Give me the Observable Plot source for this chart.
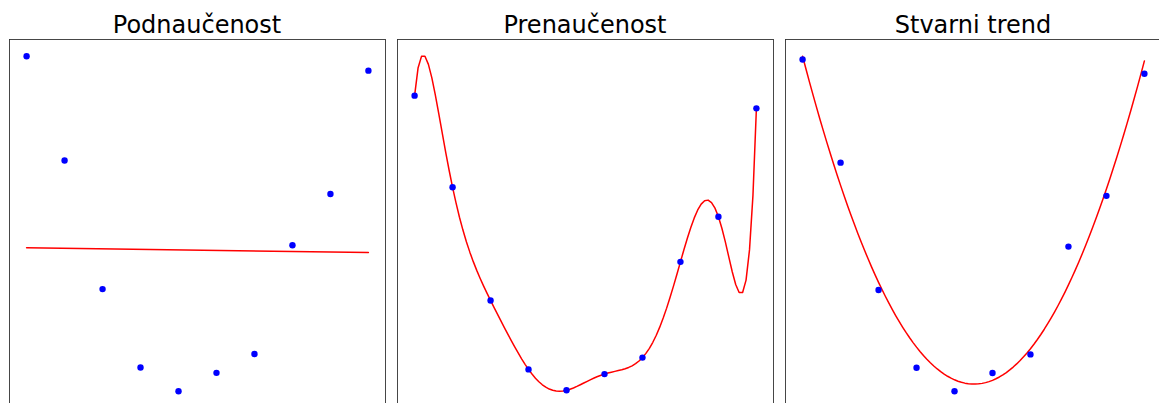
<!DOCTYPE html>
<html>
<head>
<meta charset="utf-8">
<script src="https://cdn.jsdelivr.net/npm/d3@7"></script>
<script src="https://cdn.jsdelivr.net/npm/@observablehq/plot@0.6"></script>
<style>
  html, body { margin: 0; padding: 0; background: #fff; }
  #wrap { position: relative; width: 1159px; height: 403px; overflow: hidden; background: #fff; }
  .title { position: absolute; top: 13px; width: 376px; text-align: center;
           font-family: "DejaVu Sans", sans-serif; font-size: 24px; line-height: 24px; color: #000; }
  .panel { position: absolute; top: 36.8px; }
</style>
</head>
<body>
<div id="wrap"></div>
<script>
// ---- data ----
const titles = ["Podnaučenost", "Prenaučenost", "Stvarni trend"];
const xs = [0, 1, 2, 3, 4, 5, 6, 7, 8, 9];
const ys = [10.0, 6.89, 3.05, 0.71, 0.0, 0.55, 1.11, 4.36, 5.89, 9.57];

const points = xs.map((x, i) => ({x, y: ys[i]}));

// grid for fitted curves
const N = 100;
const x0 = d3.min(xs), x1 = d3.max(xs);
const grid = d3.range(N).map(i => x0 + (x1 - x0) * i / (N - 1));

// overfit: interpolating polynomial (degree n-1) through all points
function lagrange(x) {
  let s = 0;
  for (let i = 0; i < xs.length; i++) {
    let p = ys[i];
    for (let j = 0; j < xs.length; j++) if (j !== i) p *= (x - xs[j]) / (xs[i] - xs[j]);
    s += p;
  }
  return s;
}
const overfit = grid.map(x => ({x, y: lagrange(x)}));

// true trend: least squares quadratic
function quadFit() {
  const n = xs.length, mx = d3.mean(xs);
  const t = xs.map(x => x - mx);
  const S2 = d3.sum(t, v => v * v), S4 = d3.sum(t, v => v ** 4), S3 = d3.sum(t, v => v ** 3);
  const Sy = d3.sum(ys), Sty = d3.sum(t, (v, i) => v * ys[i]), St2y = d3.sum(t, (v, i) => v * v * ys[i]);
  const A = [[n, 0, S2, Sy], [0, S2, S3, Sty], [S2, S3, S4, St2y]];
  for (let k = 0; k < 3; k++) {
    for (let r = k + 1; r < 3; r++) {
      const f = A[r][k] / A[k][k];
      for (let c = k; c < 4; c++) A[r][c] -= f * A[k][c];
    }
  }
  const sol = [0, 0, 0];
  for (let k = 2; k >= 0; k--) {
    let s = A[k][3];
    for (let c = k + 1; c < 3; c++) s -= A[k][c] * sol[c];
    sol[k] = s / A[k][k];
  }
  return x => sol[0] + sol[1] * (x - mx) + sol[2] * (x - mx) ** 2;
}
const qf = quadFit();
const trend = grid.map(x => ({x, y: qf(x)}));

function padded(vals) {
  const [a, b] = d3.extent(vals);
  const m = (b - a) * 0.05;
  return [a - m, b + m];
}

const wrap = document.getElementById("wrap");
const frameLefts = [9, 397, 785];
const M = 2, W = 376, H = 368.5;

titles.forEach((t, k) => {
  const d = document.createElement("div");
  d.className = "title";
  d.style.left = frameLefts[k] + "px";
  d.textContent = t;
  wrap.appendChild(d);

  let lineMark, curveY = [];
  if (k === 0) {
    lineMark = Plot.linearRegressionY(points, {x: "x", y: "y", stroke: "#ff0000", strokeWidth: 1.5, ci: 0});
  } else if (k === 1) {
    lineMark = Plot.line(overfit, {x: "x", y: "y", stroke: "#ff0000", strokeWidth: 1.5, curve: "linear"});
    curveY = overfit.map(d => d.y);
  } else {
    lineMark = Plot.line(trend, {x: "x", y: "y", stroke: "#ff0000", strokeWidth: 1.5, curve: "linear"});
    curveY = trend.map(d => d.y);
  }

  const chart = Plot.plot({
    width: W + 2 * M,
    height: H + 2 * M,
    marginTop: M, marginBottom: M, marginLeft: M, marginRight: M,
    x: {domain: padded(xs), axis: null},
    y: {domain: padded(ys.concat(curveY)), axis: null},
    style: {background: "transparent", overflow: "visible"},
    marks: [
      lineMark,
      Plot.dot(points, {x: "x", y: "y", r: 3.2, fill: "#0000ff", stroke: "none"}),
      Plot.frame({stroke: "#333", strokeWidth: 0.9})
    ]
  });
  chart.classList.add("panel");
  chart.style.left = (frameLefts[k] - M) + "px";
  chart.style.position = "absolute";
  wrap.appendChild(chart);
});
</script>
</body>
</html>
